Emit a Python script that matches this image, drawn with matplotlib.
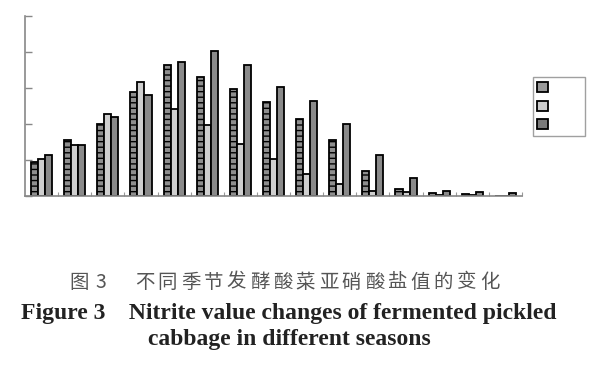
import matplotlib
matplotlib.use("Agg")
import matplotlib.pyplot as plt
import numpy as np

plt.rcParams['hatch.color'] = 'white'
plt.rcParams['hatch.linewidth'] = 1.0

days = list(range(1, 16))
series_a = [9.2, 15.4, 19.9, 28.9, 36.4, 33.0, 29.8, 26.1, 21.3, 15.5, 6.8, 1.7, 0.6, 0.3, 0.0]
series_b = [10.3, 14.2, 22.7, 31.5, 24.2, 19.5, 14.3, 10.3, 5.9, 3.1, 1.3, 0.9, 0.1, 0.1, 0.0]
series_c = [11.2, 14.2, 21.8, 28.1, 37.2, 40.2, 36.4, 30.2, 26.4, 19.9, 11.2, 4.9, 1.3, 1.0, 0.6]
yticks = [0, 10, 20, 30, 40, 50]
caption_cn_label = '图'
caption_cn_num = '3'
caption_cn = '不同季节发酵酸菜亚硝酸盐值的变化'
caption_en1 = 'Figure 3    Nitrite value changes of fermented pickled'
caption_en2 = 'cabbage in different seasons'

fig = plt.figure(figsize=(6.0, 3.66), dpi=100)
ax = fig.add_axes([25/600, 1 - 195.5/366, (522 - 25)/600, (195.5 - 16)/366])

x = np.arange(len(days))
w = 0.212
ax.bar(x - w, series_a, w, facecolor='#8e8e8e', edgecolor='black', linewidth=1.3, hatch='---', label=' ')
ax.bar(x, series_b, w, facecolor='#cfcfcf', edgecolor='black', linewidth=1.3, label=' ')
ax.bar(x + w, series_c, w, facecolor='#8a8a8a', edgecolor='black', linewidth=1.3, label=' ')

ax.set_xlim(-0.5, len(days) - 0.5)
ax.set_ylim(0, 50)
ax.set_yticks(yticks)
ax.set_yticklabels([])
ax.set_xticks([])
ax.set_xticks(np.arange(0.5, len(days), 1.0), minor=True)
ax.tick_params(axis='x', which='minor', direction='in', length=3, color='#999999', width=0.8)
ax.tick_params(axis='y', direction='in', length=5, color='#888888', width=1.0)
for s in ['top', 'right']:
    ax.spines[s].set_visible(False)
ax.spines['left'].set_color('#888888')
ax.spines['bottom'].set_color('#888888')
ax.spines['left'].set_linewidth(1.2)
ax.spines['bottom'].set_linewidth(1.2)

leg = fig.legend(loc='upper left', bbox_to_anchor=(533/600, 1 - 77/366), frameon=True,
                 handlelength=0.85, handleheight=0.85, borderpad=0.35, labelspacing=0.45,
                 borderaxespad=0, fancybox=False, edgecolor='#888888', handletextpad=2.3,
                 fontsize=9)
leg.get_frame().set_linewidth(1.0)
for h, c in zip(leg.legend_handles, ['#9a9a9a', '#cccccc', '#7a7a7a']):
    h.set_hatch(None)
    h.set_facecolor(c)

cn_font = dict(fontsize=14, color='#555555', family=['Noto Sans CJK SC', 'DejaVu Sans'],
               ha='center', va='center')
ycn = 1 - 282/366
fig.text(79/600, ycn, caption_cn_label, **cn_font)
fig.text(101/600, ycn, caption_cn_num, **cn_font)
pitch = 23.0
for i, ch in enumerate(caption_cn):
    fig.text((135 + pitch * i + 9.5)/600, ycn, ch, **cn_font)

fig.text(289/600, 1 - 313/366, caption_en1, ha='center', va='center',
         fontsize=17, fontweight='bold', color='#222222', family='Liberation Serif')
fig.text(289/600, 1 - 340/366, caption_en2, ha='center', va='center',
         fontsize=17, fontweight='bold', color='#222222', family='Liberation Serif')

fig.savefig('out.png', dpi=100)
